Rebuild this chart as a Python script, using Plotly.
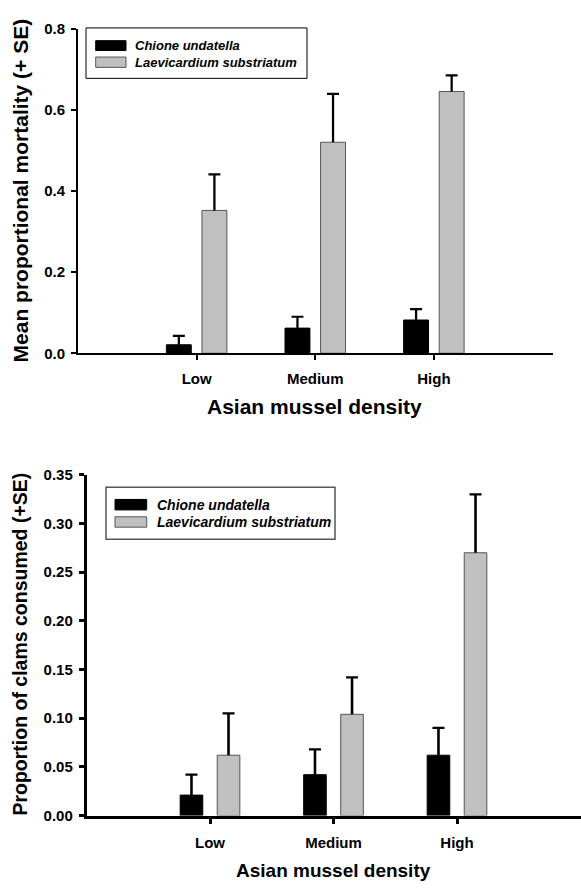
import plotly.graph_objects as go

# ---------------- data ----------------
categories = ["Low", "Medium", "High"]
series_names = ["Chione undatella", "Laevicardium substriatum"]

# top panel: mean proportional mortality (+SE)
mort_chione = [0.021, 0.062, 0.082]
mort_chione_se = [0.022, 0.028, 0.027]
mort_laevi = [0.352, 0.520, 0.645]
mort_laevi_se = [0.089, 0.119, 0.040]

# bottom panel: proportion of clams consumed (+SE)
cons_chione = [0.021, 0.042, 0.062]
cons_chione_se = [0.021, 0.026, 0.028]
cons_laevi = [0.062, 0.104, 0.270]
cons_laevi_se = [0.043, 0.038, 0.060]

top_yticks = [0.0, 0.2, 0.4, 0.6, 0.8]
top_yticktext = ["0.0", "0.2", "0.4", "0.6", "0.8"]
bot_yticks = [0.0, 0.05, 0.10, 0.15, 0.20, 0.25, 0.30, 0.35]
bot_yticktext = ["0.00", "0.05", "0.10", "0.15", "0.20", "0.25", "0.30", "0.35"]

top_ytitle = "Mean proportional mortality (+ SE)"
bot_ytitle = "Proportion of clams consumed (+SE)"
xtitle = "Asian mussel density"

# ---------------- style ----------------
W, H = 581, 888
FONT = "Liberation Sans, Arial, sans-serif"
GRAY = "#c0c0c0"
GRAY_EDGE = "#555555"


def px_x(p):
    return p / W


def px_y(p):
    return 1 - p / H


fig = go.Figure()


def add_panel(xa, ya, vals_a, se_a, vals_b, se_b, bar_w, center, stem_w):
    # main bars
    for vals, color, edge, c in ((vals_a, "black", "black", -center),
                                 (vals_b, GRAY, GRAY_EDGE, center)):
        fig.add_trace(go.Bar(
            x=categories, y=vals, width=bar_w, offset=c - bar_w / 2,
            marker=dict(color=color, line=dict(color=edge, width=1)),
            xaxis=xa, yaxis=ya, showlegend=False, hoverinfo="skip"))
    # error bars (+SE only): stem as a thin bar from mean to mean+SE, cap on top
    for vals, se, c in ((vals_a, se_a, -center), (vals_b, se_b, center)):
        fig.add_trace(go.Bar(
            x=categories, y=se, base=vals, width=stem_w, offset=c - stem_w / 2,
            marker=dict(color="black", line=dict(width=0)),
            error_y=dict(type="constant", value=0, visible=True, color="black",
                         thickness=2.2, width=6),
            xaxis=xa, yaxis=ya, showlegend=False, hoverinfo="skip"))


add_panel("x", "y", mort_chione, mort_chione_se, mort_laevi, mort_laevi_se,
          bar_w=0.21, center=0.15, stem_w=0.019)
add_panel("x2", "y2", cons_chione, cons_chione_se, cons_laevi, cons_laevi_se,
          bar_w=0.183, center=0.15, stem_w=0.021)

tickfont = dict(family=FONT, size=15, color="black", weight="bold")

common_x = dict(type="category", categoryorder="array", categoryarray=categories,
                range=[-1, 3], showline=True, linecolor="black", ticks="outside",
                tickcolor="black", showgrid=False, zeroline=False, tickfont=tickfont,
                fixedrange=True)
common_y = dict(showline=True, linecolor="black", ticks="outside", tickcolor="black",
                showgrid=False, zeroline=False, tickfont=tickfont, fixedrange=True)

fig.update_layout(
    width=W, height=H, autosize=False,
    margin=dict(l=0, r=0, t=0, b=0),
    paper_bgcolor="white", plot_bgcolor="white",
    barmode="overlay",
    font=dict(family=FONT, color="black"),
    xaxis=dict(common_x, domain=[px_x(78), px_x(552.5)], anchor="y",
               linewidth=1.6, ticklen=5, tickwidth=1.6, ticklabelstandoff=6),
    yaxis=dict(common_y, domain=[px_y(351), px_y(20)], anchor="x", range=[0, 0.8],
               tickvals=top_yticks, ticktext=top_yticktext,
               linewidth=2, ticklen=5, tickwidth=2, ticklabelstandoff=3),
    xaxis2=dict(common_x, domain=[px_x(86.5), px_x(580.5)], anchor="y2",
                linewidth=2.5, ticklen=6, tickwidth=2.5, ticklabelstandoff=6),
    yaxis2=dict(common_y, domain=[px_y(822.3), px_y(475)], anchor="x2", range=[0, 0.35],
                tickvals=bot_yticks, ticktext=bot_yticktext,
                linewidth=2.5, ticklen=5, tickwidth=2.5, ticklabelstandoff=3),
)

annotations = []
shapes = []

# axis titles
for text, x, y, size, angle in ((top_ytitle, 20, 185, 21, -90),
                                (xtitle, 314, 405, 21, 0),
                                (bot_ytitle, 20, 648, 19.5, -90),
                                (xtitle, 333, 878, 19, 0)):
    annotations.append(dict(text=text, x=px_x(x), y=px_y(y), xref="paper", yref="paper",
                            xanchor="center", yanchor="middle", showarrow=False,
                            textangle=angle,
                            font=dict(family=FONT, size=size, color="black", weight="bold")))


def add_legend(box, sw_x, rows, text_x, font_size, border_color, border_w):
    bx0, by0, bx1, by1 = box
    shapes.append(dict(type="rect", xref="paper", yref="paper",
                       x0=px_x(bx0), x1=px_x(bx1), y0=px_y(by1), y1=px_y(by0),
                       line=dict(color=border_color, width=border_w),
                       fillcolor="white", layer="above"))
    for (name, fill, edge), (ry0, ry1) in zip(
            ((series_names[0], "black", "black"), (series_names[1], GRAY, GRAY_EDGE)), rows):
        shapes.append(dict(type="rect", xref="paper", yref="paper",
                           x0=px_x(sw_x[0]), x1=px_x(sw_x[1]), y0=px_y(ry1), y1=px_y(ry0),
                           line=dict(color=edge, width=1), fillcolor=fill, layer="above"))
        annotations.append(dict(text=name, x=px_x(text_x), y=px_y((ry0 + ry1) / 2),
                                xref="paper", yref="paper", xanchor="left", yanchor="middle",
                                showarrow=False,
                                font=dict(family=FONT, size=font_size, color="black",
                                          weight="bold", style="italic")))


add_legend((86, 19.3, 307, 70.7), (95.7, 126), ((32.3, 42.3), (49, 59.5)), 133,
           13, "black", 1)
add_legend((106, 487.7, 335, 540.7), (115, 146.7), ((500, 510.7), (517.7, 528.3)), 155,
           14, "#555555", 1.5)

fig.update_layout(annotations=annotations, shapes=shapes)

fig.write_html(
    "out.html",
    config={"displayModeBar": False},
    post_script="document.body.style.margin='0';document.body.style.overflow='hidden';",
)
